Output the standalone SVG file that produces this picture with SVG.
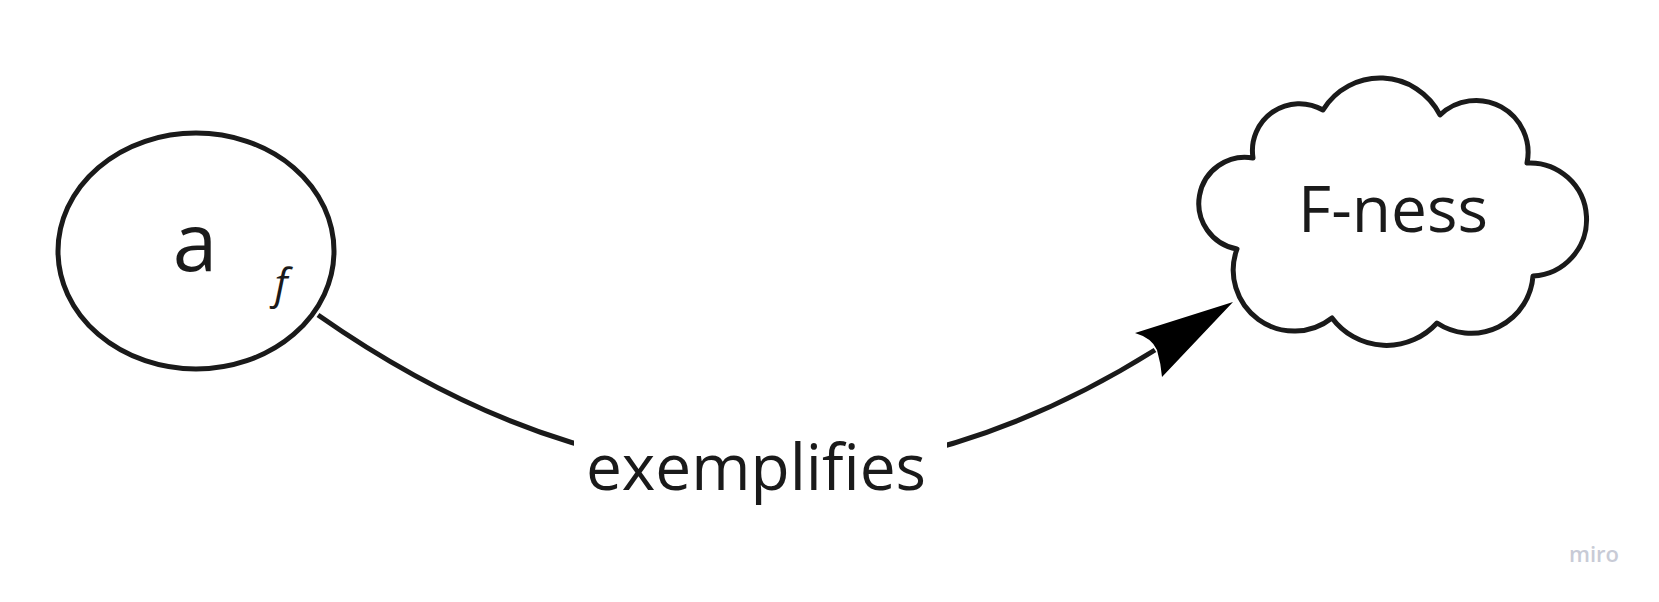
<svg xmlns="http://www.w3.org/2000/svg" width="1659" height="602" viewBox="0 0 1659 602">
<style>
.shape{fill:#ffffff;stroke:#1a1a1a;stroke-width:5;stroke-linejoin:round}
.lbl{font-family:"Open Sans","Noto Sans",sans-serif;fill:#1a1a1a;text-anchor:middle}
.edge{fill:none;stroke:#1a1a1a;stroke-width:5}
</style>
<rect width="1659" height="602" fill="#ffffff"/>
<g id="connectors">
<path class="edge" d="M 318 315 Q 739 610 1155 350"/>
<path d="M 1233 302 L 1135 333 Q 1152 338 1157 350 Q 1161 364 1162 377 Z" fill="#000000"/>
<rect x="574" y="438" width="373" height="78" fill="#ffffff"/>
<text class="lbl" x="756" y="490" font-size="64">exemplifies</text>
</g>
<g id="node-a">
<ellipse class="shape" cx="196" cy="251" rx="138" ry="118"/>
<text class="lbl" x="195" y="271" font-size="80">a</text>
<text class="lbl" x="281" y="299" font-size="42" font-style="italic">f</text>
</g>
<g id="node-fness">
<path class="shape" d="M 1253 158 A 47 47 0 0 1 1323 110 A 67 67 0 0 1 1440 115 A 52 52 0 0 1 1527 163 A 50 50 0 0 1 1533 276 A 62 62 0 0 1 1437 323 A 68 68 0 0 1 1332 318 A 61 61 0 0 1 1237 249 A 46 46 0 0 1 1253 158 Z"/>
<text class="lbl" x="1393" y="232" font-size="64">F-ness</text>
</g>
<text x="1619" y="562" font-family="'Open Sans',sans-serif" font-size="22" font-weight="600" fill="#c8cbd6" text-anchor="end">miro</text>
</svg>
